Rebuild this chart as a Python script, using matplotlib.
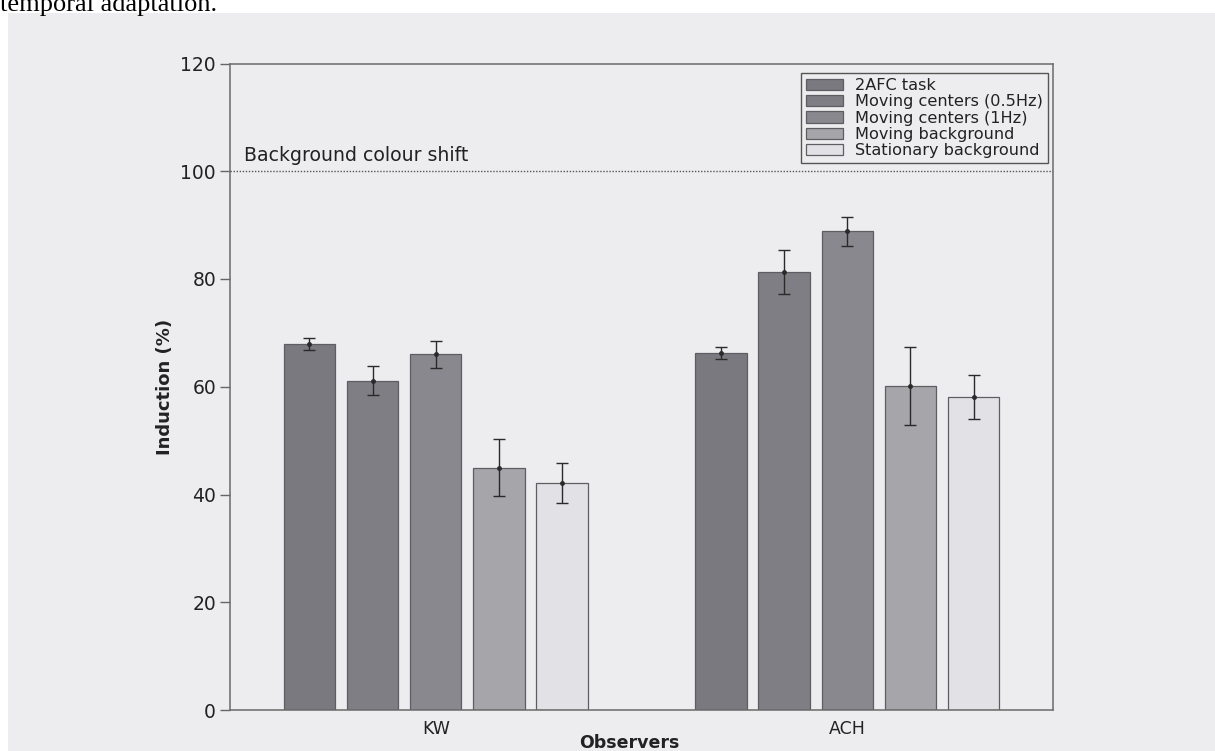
import matplotlib
matplotlib.use("Agg")
import matplotlib.pyplot as plt
import numpy as np
from matplotlib.patches import Rectangle

# Induction measurements per observer and condition
observers = ["KW", "ACH"]
conditions = ["2AFC task", "Moving centers (0.5Hz)", "Moving centers (1Hz)",
              "Moving background", "Stationary background"]
kw_mean = [68.0, 61.1, 66.0, 45.0, 42.2]
kw_err = [1.1, 2.7, 2.5, 5.3, 3.7]
ach_mean = [66.2, 81.3, 88.9, 60.1, 58.1]
ach_err = [1.1, 4.0, 2.7, 7.2, 4.0]
y_ticks = [0, 20, 40, 60, 80, 100, 120]
shift_level = 100

bar_colors = ["#7a797f", "#7f7e84", "#89888e", "#a5a5aa", "#e1e1e6"]
page_color = "#ededef"

W, H = 1215, 751
fig = plt.figure(figsize=(W / 100, H / 100), dpi=100, facecolor="white")

# scanned page area behind the chart
fig.patches.append(Rectangle((8 / W, 0), 1 - 8 / W, 1 - 13 / H,
                             transform=fig.transFigure, facecolor=page_color,
                             edgecolor="none", zorder=-10))
fig.text(0.0, 1 - 11 / H, "temporal adaptation.", family="Liberation Serif",
         fontsize=19, ha="left", va="baseline", color="black")

ax = fig.add_axes([230 / W, 1 - 710 / H, (1053 - 230) / W, (710 - 63.5) / H])
ax.set_facecolor("none")
ax.set_zorder(1)

pitch = 0.1536
width = 0.125
means = np.array([kw_mean, ach_mean])
errs = np.array([kw_err, ach_err])
group_x = np.arange(len(observers))
for i, (cond, col) in enumerate(zip(conditions, bar_colors)):
    xs = group_x + (i - 2) * pitch
    ax.bar(xs, means[:, i], width=width, color=col, edgecolor="#5e5e62",
           linewidth=0.9, label=cond, zorder=2)
    ax.errorbar(xs, means[:, i], yerr=errs[:, i], fmt="o", ms=2.5,
                color="#2a2a2a", ecolor="#2a2a2a", elinewidth=1.0,
                capsize=4.3, capthick=1.0, zorder=3)

ax.axhline(shift_level, color="#555555", linestyle=(0, (1, 1.2)),
           linewidth=1.0, zorder=1)
ax.text(-0.467, shift_level + 1.2, "Background colour shift", fontsize=13.6,
        color="#222222", ha="left", va="bottom")

ax.set_xlim(-0.5, 1.5)
ax.set_ylim(0, 120)
ax.set_yticks(y_ticks)
ax.set_xticks(group_x)
ax.set_xticklabels(observers)
ax.tick_params(axis="x", length=0, pad=7, labelsize=12.5, labelcolor="#222222")
ax.tick_params(axis="y", length=7, width=1.0, color="#666666", pad=3,
               labelsize=13.5, labelcolor="#222222")
for sp in ax.spines.values():
    sp.set_color("#6a6a6a")
    sp.set_linewidth(1.1)

ax.set_ylabel("Induction (%)", fontsize=13, fontweight="bold",
              color="#222222")
ax.yaxis.set_label_coords(-0.068, 0.5)
fig.text(629 / W, 1 - 743 / H, "Observers", fontsize=12.5, fontweight="bold",
         color="#222222", ha="center", va="center")

leg = ax.legend(loc="upper right", bbox_to_anchor=(1048 / W, 1 - 73 / H),
                bbox_transform=fig.transFigure, fontsize=11.6, frameon=True,
                fancybox=False, framealpha=1, facecolor=page_color,
                edgecolor="#555555", labelspacing=0.08, handlelength=2.3,
                handleheight=0.7, handletextpad=0.75, borderpad=0.32,
                borderaxespad=0)
leg.get_frame().set_linewidth(1.0)
for t in leg.get_texts():
    t.set_color("#222222")

fig.savefig("out.png", dpi=100, facecolor=fig.get_facecolor())
